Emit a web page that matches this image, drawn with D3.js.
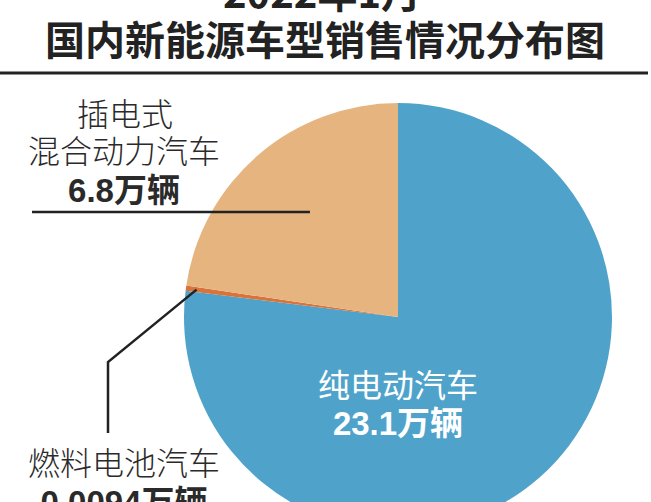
<!DOCTYPE html>
<html>
<head>
<meta charset="utf-8">
<title>2022年1月 国内新能源车型销售情况分布图</title>
<script src="https://cdn.jsdelivr.net/npm/d3@7"></script>
<style>
html, body { margin:0; padding:0; background:#fff; }
svg { display:block; font-family:"Noto Sans CJK SC", "Noto Sans", sans-serif; }
</style>
</head>
<body>
<div id="chart"></div>
<script>
// data (万辆)
var categories = ["纯电动汽车", "燃料电池汽车", "插电式混合动力汽车"];
var sales = [23.1, 0.0094, 6.8];
var valueLabels = ["23.1万辆", "0.0094万辆", "6.8万辆"];
var colors = ["#4fa3cb", "#d8733b", "#e6b47e"];

var W = 651, H = 502;
var cx = 398, cy = 317, R = 214;

var svg = d3.select("#chart").append("svg")
	.attr("width", W).attr("height", H);

// title
svg.append("text").attr("x", 322).attr("y", 8)
	.attr("text-anchor", "middle").attr("font-size", 40).attr("font-weight", "bold")
	.attr("fill", "#222").text("2022年1月");
svg.append("text").attr("x", 325).attr("y", 55)
	.attr("text-anchor", "middle").attr("font-size", 40).attr("font-weight", "bold")
	.attr("fill", "#222").text("国内新能源车型销售情况分布图");
svg.append("line").attr("x1", 0).attr("x2", 648).attr("y1", 73).attr("y2", 73)
	.attr("stroke", "#222").attr("stroke-width", 3);

// tiny slice is drawn a little wider than its share so it stays visible
var pie = d3.pie()
	.sort(null)
	.value(function(d){ return Math.max(d, 0.12); });

var arcs = pie(sales);
var arc = d3.arc().innerRadius(0).outerRadius(R);

var g = svg.append("g").attr("transform", "translate(" + cx + "," + cy + ")");
g.selectAll("path").data(arcs).enter().append("path")
	.attr("d", arc)
	.attr("fill", function(d, i){ return colors[i]; });

// 纯电动汽车 label inside
svg.append("text").attr("x", cx).attr("y", 397)
	.attr("text-anchor", "middle").attr("font-size", 32).attr("fill", "#fff")
	.text(categories[0]);
svg.append("text").attr("x", cx).attr("y", 435)
	.attr("text-anchor", "middle").attr("font-size", 33).attr("font-weight", "bold")
	.attr("fill", "#fff").attr("font-family", "'Liberation Sans', 'Noto Sans CJK SC', sans-serif")
	.text(valueLabels[0]);

// 插电式 label
var lab = svg.append("g").attr("fill", "#2a2a2a");
lab.append("text").attr("x", 125).attr("y", 126)
	.attr("text-anchor", "middle").attr("font-size", 32).attr("font-weight", 300)
	.text("插电式");
lab.append("text").attr("x", 124).attr("y", 163)
	.attr("text-anchor", "middle").attr("font-size", 32).attr("font-weight", 300)
	.text("混合动力汽车");
lab.append("text").attr("x", 124).attr("y", 202)
	.attr("text-anchor", "middle").attr("font-size", 33).attr("font-weight", "bold")
	.attr("font-family", "'Liberation Sans', 'Noto Sans CJK SC', sans-serif")
	.text(valueLabels[2]);

var phev = arcs[2];
var pm = d3.arc().innerRadius(R * 0.63).outerRadius(R * 0.63).centroid(phev);
svg.append("line").attr("x1", 32).attr("x2", cx + pm[0]).attr("y1", 212).attr("y2", 212)
	.attr("stroke", "#222").attr("stroke-width", 2.5);

// 燃料电池 label with leader
var fc = arcs[1];
var fp = d3.arc().innerRadius(R * 0.95).outerRadius(R * 0.95).centroid(fc);
svg.append("polyline")
	.attr("points", [[cx + fp[0], cy + fp[1]], [108, 362], [108, 433]].join(" "))
	.attr("fill", "none").attr("stroke", "#222").attr("stroke-width", 2.5);

lab.append("text").attr("x", 124).attr("y", 475)
	.attr("text-anchor", "middle").attr("font-size", 32).attr("font-weight", 300)
	.text(categories[1]);
lab.append("text").attr("x", 124).attr("y", 514)
	.attr("text-anchor", "middle").attr("font-size", 33).attr("font-weight", "bold")
	.attr("font-family", "'Liberation Sans', 'Noto Sans CJK SC', sans-serif")
	.text(valueLabels[1]);
</script>
</body>
</html>
